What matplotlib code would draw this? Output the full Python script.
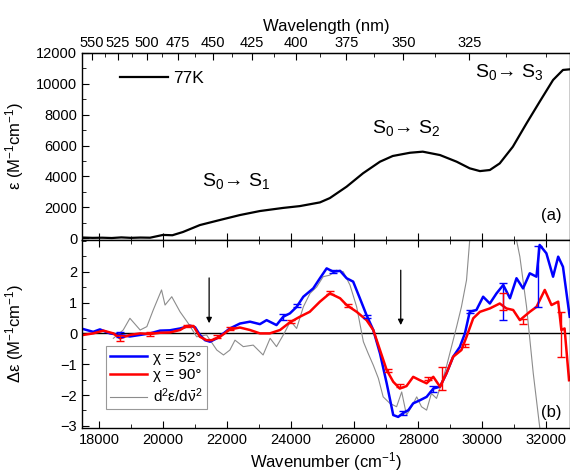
import numpy as np
import matplotlib
matplotlib.use('Agg')
import matplotlib.pyplot as plt
from matplotlib.ticker import MultipleLocator, FixedLocator

plt.rcParams['font.family'] = ['Liberation Sans', 'DejaVu Sans']
plt.rcParams['mathtext.fontset'] = 'custom'
plt.rcParams['mathtext.rm'] = 'Liberation Sans'
plt.rcParams['mathtext.it'] = 'Liberation Sans:italic'
plt.rcParams['mathtext.default'] = 'regular'

# absorption at 77K (top panel)
abs_wn = [17510, 17800, 18100, 18400, 18700, 19000, 19300, 19600, 20005, 20300, 20630,
          21160, 21790, 22415, 23040, 23760, 24290, 24920, 25230, 25755, 26270, 26800,
          27200, 27740, 28140, 28680, 29200, 29610, 29930, 30240, 30550, 30960, 31390,
          31800, 32220, 32530, 32740]
abs_eps = [30, 10, 20, 0, 40, 10, 30, 20, 200, 180, 390, 840, 1170, 1490, 1750, 1950,
           2070, 2310, 2590, 3330, 4200, 4950, 5320, 5530, 5600, 5380, 4950, 4520, 4340,
           4410, 4840, 5920, 7440, 8840, 10250, 10900, 10940]

# MCD-type signal, chi = 52 deg
blue_wn = [17510, 17820, 18030, 18345, 18660, 18970, 19290, 19600, 19910, 20220, 20540,
           20850, 21010, 21160, 21320, 21480, 21690, 21900, 22100, 22415, 22730, 23040,
           23250, 23560, 23770, 23980, 24190, 24400, 24710, 24920, 25130, 25340, 25550,
           25755, 25960, 26170, 26380, 26590, 26800, 27010, 27215, 27370, 27530, 27690,
           27840, 28050, 28260, 28470, 28680, 28880, 29090, 29300, 29460, 29610, 29820,
           30030, 30240, 30450, 30660, 30870, 31075, 31280, 31490, 31700, 31800, 32010,
           32220, 32380, 32530, 32740]
blue_de = [0.14, 0.05, 0.13, 0.0, -0.05, -0.1, -0.05, 0.0, 0.09, 0.1, 0.16,
           0.25, 0.2, -0.05, -0.22, -0.27, -0.16, 0.0, 0.16, 0.32, 0.38, 0.3,
           0.43, 0.27, 0.54, 0.65, 0.86, 1.19, 1.46, 1.79, 2.11, 2.0, 2.03,
           1.79, 1.68, 1.14, 0.59, 0.11, -0.65, -1.62, -2.65, -2.71, -2.58, -2.49,
           -2.27, -2.17, -2.06, -1.79, -1.73, -1.3, -0.76, -0.44, 0.0, 0.7, 0.76,
           1.19, 0.97, 1.3, 1.57, 1.14, 1.79, 1.46, 1.95, 1.84, 2.87, 2.6,
           1.84, 2.49, 2.16, 0.54]
blue_err_wn = [18660, 23770, 24190, 25340, 26380, 27530, 28470, 29610, 30660, 31760]
blue_err_de = [-0.05, 0.54, 0.9, 2.0, 0.55, -2.58, -1.8, 0.7, 1.03, 1.85]
blue_err = [0.08, 0.1, 0.04, 0.05, 0.06, 0.06, 0.1, 0.05, 0.6, 1.0]

# chi = 90 deg
red_wn = [17510, 17820, 18140, 18450, 18660, 18970, 19290, 19600, 19910, 20220, 20540,
          20750, 20960, 21160, 21370, 21530, 21790, 22100, 22415, 22730, 23040, 23350,
          23670, 23980, 24290, 24600, 24920, 25230, 25550, 25755, 26070, 26380, 26590,
          26800, 27010, 27215, 27420, 27630, 27840, 28050, 28260, 28470, 28680, 28880,
          29090, 29350, 29510, 29720, 29930, 30240, 30550, 30760, 30970, 31180, 31490,
          31700, 31960, 32170, 32380, 32480, 32580, 32720]
red_de = [-0.05, 0.0, 0.09, 0.0, -0.16, -0.05, 0.0, -0.02, 0.02, 0.03, 0.11,
          0.24, 0.24, -0.11, -0.22, -0.22, -0.11, 0.13, 0.19, 0.11, 0.0, 0.0,
          0.11, 0.36, 0.54, 0.7, 1.03, 1.3, 1.14, 0.92, 0.7, 0.43, 0.11,
          -0.54, -1.19, -1.57, -1.79, -1.71, -1.41, -1.52, -1.62, -1.41, -1.73, -1.3,
          -0.76, -0.54, -0.11, 0.49, 0.7, 0.81, 0.97, 0.81, 0.76, 0.43, 0.7,
          0.86, 1.41, 0.92, 1.03, 0.11, 0.16, -1.52]
red_err_wn = [18660, 19600, 20750, 21690, 22100, 24000, 25230, 25800, 27050, 27420,
              28300, 28750, 29450, 30660, 31280, 32480]
red_err_de = [-0.16, -0.02, 0.24, -0.1, 0.15, 0.4, 1.33, 0.9, -1.2, -1.7,
              -1.45, -1.46, -0.4, 1.03, 0.4, -0.03]
red_err = [0.1, 0.05, 0.04, 0.04, 0.05, 0.05, 0.05, 0.05, 0.05, 0.05,
           0.05, 0.38, 0.05, 0.27, 0.08, 0.73]

# second derivative of absorption (scaled)
d2_wn = [18450, 18760, 18970, 19290, 19500, 19700, 19960, 20070, 20280, 20540, 20800,
         21060, 21370, 21690, 21900, 22100, 22260, 22520, 22830, 23140, 23360, 23560,
         23800, 24000, 24190, 24400, 24610, 24820, 25020, 25230, 25440, 25650, 25860,
         26070, 26280, 26430, 26590, 26750, 26900, 27110, 27320, 27480, 27630, 27790,
         27950, 28100, 28260, 28410, 28570, 28730, 28880, 29040, 29200, 29350, 29510,
         29610, 30300, 31075, 31180, 31390, 31600, 31800, 32000]
d2_de = [-0.16, 0.11, 0.49, 0.11, 0.22, 0.76, 1.41, 0.92, 1.19, 0.7, 0.32,
         -0.11, -0.05, -0.54, -0.7, -0.54, -0.22, -0.43, -0.38, -0.7, -0.16, -0.43,
         0.0, 0.4, 0.16, 0.86, 1.3, 1.51, 1.84, 1.89, 2.05, 2.0, 1.57,
         0.86, -0.27, -0.65, -1.03, -1.46, -2.06, -2.27, -2.38, -1.9, -2.65, -2.38,
         -2.06, -2.38, -2.49, -1.95, -2.11, -1.62, -1.08, -0.43, 0.22, 0.86, 1.73,
         3.03, 6.0, 3.03, 2.49, 0.86, -1.3, -3.03, -5.0]

wl_major = [550, 525, 500, 475, 450, 425, 400, 375, 350, 325]
wl_minor = [537.5, 512.5, 487.5, 462.5, 437.5, 412.5, 387.5, 362.5, 337.5, 312.5, 300]
de_ticks = [-3, -2, -1, 0, 1, 2]

arrow_wn = [21450, 27450]
arrow_top = [1.8, 2.05]
arrow_bot = [0.33, 0.27]

fig = plt.figure(figsize=(5.7, 4.71), dpi=100)
left, right = 0.1439, 1.0
ax1 = fig.add_axes([left, 0.4904, right - left, 0.8875 - 0.4904])
ax2 = fig.add_axes([left, 0.0913, right - left, 0.4904 - 0.0913], sharex=ax1)

xlim = (17470, 32750)

# top panel
ax1.plot(abs_wn, abs_eps, color='black', lw=1.6, label='77K')
ax1.set_xlim(*xlim)
ax1.set_ylim(-130, 12000)
ax1.yaxis.set_major_locator(MultipleLocator(2000))
ax1.yaxis.set_minor_locator(MultipleLocator(1000))
ax1.xaxis.set_major_locator(MultipleLocator(2000))
ax1.xaxis.set_minor_locator(MultipleLocator(1000))
ax1.tick_params(axis='x', which='both', labelbottom=False)
ax1.tick_params(which='both', direction='in', labelsize=10.5)
ax1.tick_params(which='major', length=5)
ax1.tick_params(which='minor', length=3)
ax1.set_ylabel(r'ε (M$^{-1}$cm$^{-1}$)', fontsize=12)
ax1.legend(loc='center left', bbox_to_anchor=(0.045, 0.866), frameon=False,
           handlelength=2.8, fontsize=12.5, handletextpad=0.3)
ax1.text(0.245, 0.29, r'S$_0$→ S$_1$', transform=ax1.transAxes, fontsize=14)
ax1.text(0.595, 0.57, r'S$_0$→ S$_2$', transform=ax1.transAxes, fontsize=14)
ax1.text(0.805, 0.87, r'S$_0$→ S$_3$', transform=ax1.transAxes, fontsize=14)
ax1.text(0.962, 0.105, '(a)', transform=ax1.transAxes, fontsize=12, ha='center')

# top wavelength axis
axt = ax1.twiny()
axt.set_xlim(17848, 34133)
axt.xaxis.set_major_locator(FixedLocator([1e7 / w for w in wl_major]))
axt.xaxis.set_minor_locator(FixedLocator([1e7 / w for w in wl_minor]))
axt.set_xticklabels([str(w) for w in wl_major])
axt.tick_params(which='both', direction='in', labelsize=10.5, pad=2)
axt.tick_params(which='major', length=5)
axt.tick_params(which='minor', length=3)
axt.set_xlabel('Wavelength (nm)', fontsize=12, labelpad=4)
for s in ['left', 'right', 'bottom']:
    axt.spines[s].set_visible(False)

# bottom panel
ax2.axhline(0, color='black', lw=1.0)
ax2.plot(d2_wn, d2_de, color='#8c8c8c', lw=0.8, label=r'd$^2$ε/d$\bar{ν}^{2}$')
ax2.plot(blue_wn, blue_de, color='#0000ff', lw=1.8, label='χ = 52°')
ax2.plot(red_wn, red_de, color='#ff0000', lw=1.8, label='χ = 90°')
ax2.errorbar(blue_err_wn, blue_err_de, yerr=blue_err, fmt='none', ecolor='#0000ff',
             elinewidth=1.0, capsize=3)
ax2.errorbar(red_err_wn, red_err_de, yerr=red_err, fmt='none', ecolor='#ff0000',
             elinewidth=1.0, capsize=3)
for x, y0, y1 in zip(arrow_wn, arrow_top, arrow_bot):
    ax2.annotate('', xy=(x, y1), xytext=(x, y0),
                 arrowprops=dict(arrowstyle='-|>', color='black', lw=0.9,
                                 mutation_scale=8, shrinkA=0, shrinkB=0))
ax2.set_xlim(*xlim)
ax2.set_ylim(-3.07, 3.03)
ax2.yaxis.set_major_locator(FixedLocator(de_ticks))
ax2.yaxis.set_minor_locator(MultipleLocator(0.5))
ax2.xaxis.set_major_locator(MultipleLocator(2000))
ax2.xaxis.set_minor_locator(MultipleLocator(1000))
ax2.tick_params(which='both', direction='in', top=True, labelsize=10.5)
ax2.tick_params(which='major', length=5)
ax2.tick_params(which='minor', length=3)
ax2.set_xlabel(r'Wavenumber (cm$^{-1}$)', fontsize=12, labelpad=2)
ax2.set_ylabel(r'Δε (M$^{-1}$cm$^{-1}$)', fontsize=12)
ax2.text(0.962, 0.06, '(b)', transform=ax2.transAxes, fontsize=12, ha='center')

h, l = ax2.get_legend_handles_labels()
leg = ax2.legend([h[1], h[2], h[0]], [l[1], l[2], l[0]], loc='lower left',
                 bbox_to_anchor=(0.033, 0.058), fontsize=11, handlelength=2.4,
                 handletextpad=0.4, borderpad=0.3, labelspacing=0.25,
                 fancybox=False, framealpha=1)
leg.get_frame().set_edgecolor('#999999')
leg.get_frame().set_linewidth(0.8)

for ax in (ax1, ax2):
    for s in ax.spines.values():
        s.set_linewidth(1.0)
ax1.yaxis.set_label_coords(-0.115, 0.5)
ax2.yaxis.set_label_coords(-0.115, 0.5)

fig.savefig('out.png', dpi=100)
